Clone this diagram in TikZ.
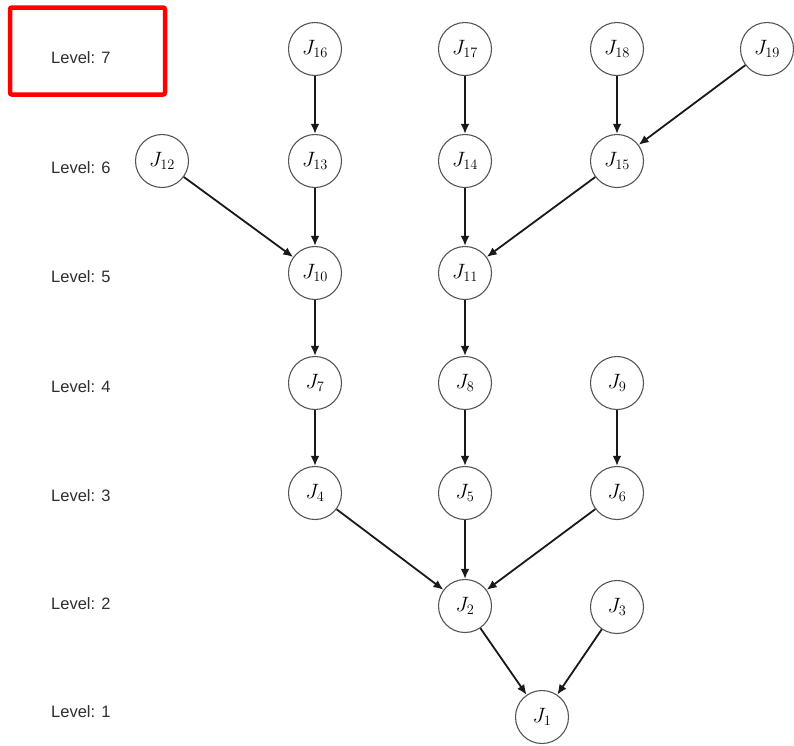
\documentclass[tikz,border=0pt]{standalone}
\usepackage{fontspec}
\usetikzlibrary{arrows.meta}
\newfontfamily\labelfont{Liberation Sans}
\definecolor{labelgray}{HTML}{2E2E2E}
\definecolor{ringgray}{HTML}{555555}
\begin{document}
\begin{tikzpicture}[x=1pt,y=-1pt,
  job/.style={circle,draw=ringgray,line width=1.1pt,minimum size=53pt,inner sep=0pt,
    font=\fontsize{22}{26}\selectfont},
  lvl/.style={anchor=west,inner sep=0pt,text=labelgray,font=\labelfont\fontsize{16.5}{19}\selectfont},
  dep/.style={-{Latex[length=10pt,width=8.5pt]},line width=1.8pt,draw=black!90}]
\useasboundingbox (0,0) rectangle (794,745);
% highlight frame around the top level label
\draw[red,line width=4.5pt,rounded corners=2pt] (10,7.5) rectangle (165,94.5);
% level labels
\node[lvl] (l7) at (51,58) {Level: 7};
\node[lvl] (l6) at (51,168) {Level: 6};
\node[lvl] (l5) at (51,277) {Level: 5};
\node[lvl] (l4) at (51,387) {Level: 4};
\node[lvl] (l3) at (51,496) {Level: 3};
\node[lvl] (l2) at (51,604) {Level: 2};
\node[lvl] (l1) at (51,712) {Level: 1};
% jobs
\node[job] (j16) at (315,49) {$J_{16}$};
\node[job] (j17) at (465,49) {$J_{17}$};
\node[job] (j18) at (617,49) {$J_{18}$};
\node[job] (j19) at (767,49) {$J_{19}$};
\node[job] (j12) at (162,161) {$J_{12}$};
\node[job] (j13) at (315,161) {$J_{13}$};
\node[job] (j14) at (465,161) {$J_{14}$};
\node[job] (j15) at (617,161) {$J_{15}$};
\node[job] (j10) at (315,273) {$J_{10}$};
\node[job] (j11) at (465,273) {$J_{11}$};
\node[job] (j7) at (315,383) {$J_{7}$};
\node[job] (j8) at (465,383) {$J_{8}$};
\node[job] (j9) at (617,383) {$J_{9}$};
\node[job] (j4) at (315,493) {$J_{4}$};
\node[job] (j5) at (465,493) {$J_{5}$};
\node[job] (j6) at (617,493) {$J_{6}$};
\node[job] (j2) at (465,606) {$J_{2}$};
\node[job] (j3) at (617,607) {$J_{3}$};
\node[job] (j1) at (542,717) {$J_{1}$};
% dependencies
\draw[dep] (j16) -- (j13);
\draw[dep] (j17) -- (j14);
\draw[dep] (j18) -- (j15);
\draw[dep] (j19) -- (j15);
\draw[dep] (j12) -- (j10);
\draw[dep] (j13) -- (j10);
\draw[dep] (j14) -- (j11);
\draw[dep] (j15) -- (j11);
\draw[dep] (j10) -- (j7);
\draw[dep] (j11) -- (j8);
\draw[dep] (j7) -- (j4);
\draw[dep] (j8) -- (j5);
\draw[dep] (j9) -- (j6);
\draw[dep] (j4) -- (j2);
\draw[dep] (j5) -- (j2);
\draw[dep] (j6) -- (j2);
\draw[dep] (j2) -- (j1);
\draw[dep] (j3) -- (j1);
\end{tikzpicture}
\end{document}
